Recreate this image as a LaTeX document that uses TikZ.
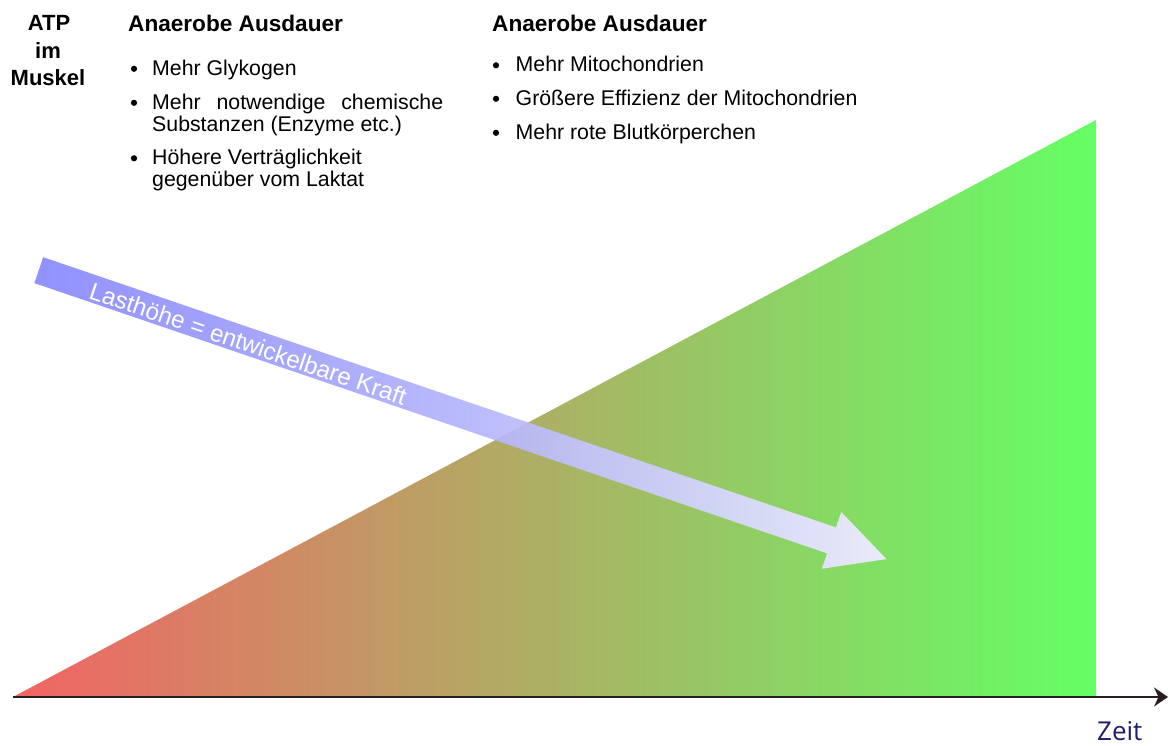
\documentclass[tikz,border=0pt]{standalone}
\usepackage{fontspec}
\setmainfont{Liberation Sans}
\newfontfamily\zeitfont{Open Sans}
\usetikzlibrary{arrows.meta,fadings}
\definecolor{trired}{RGB}{242,100,100}
\definecolor{trigreen}{RGB}{100,255,100}
\definecolor{bandblue}{RGB}{122,122,252}
\definecolor{bandmid}{RGB}{135,135,248}
\definecolor{bandwhite}{RGB}{234,236,250}
\definecolor{axiscol}{RGB}{40,30,30}
\definecolor{zeitcol}{RGB}{30,30,110}
\tikzfading[name=bandfade, left color=transparent!18, right color=transparent!0]
\begin{document}
\begin{tikzpicture}[x=1pt,y=-1pt,
  headtxt/.style={inner sep=0pt, anchor=base west, font=\fontsize{22.6}{24}\selectfont\bfseries},
  atptxt/.style={inner sep=0pt, anchor=base, font=\fontsize{22}{24}\selectfont\bfseries},
  itemtxt/.style={inner sep=0pt, anchor=base west, font=\fontsize{21.3}{22}\selectfont},
  bul/.style={circle, fill=black, inner sep=0pt, minimum size=6.2pt},
  bandtxt/.style={text=white, rotate=-18.82, inner sep=0pt, font=\fontsize{24.2}{26}\selectfont}
]
\useasboundingbox (0,0) rectangle (1168,746);

% triangle
\shade[left color=trired, right color=trigreen] (13,697) -- (1096,697) -- (1096,120) -- cycle;

% axis
\coordinate (orig) at (13,697);
\coordinate (xend) at (1168,697);
\draw[axiscol, line width=1.8pt, -{Stealth[length=14pt,width=19pt]}] (orig) -- (xend);
\node[inner sep=0pt, anchor=base west, text=zeitcol, font=\zeitfont\fontsize{26}{28}\selectfont] (zeit) at (1097,740.5) {Zeit};

% band arrow
\begin{scope}[shift={(39,270)}, rotate=-18.82]
\shade[left color=bandblue, middle color=bandmid, right color=bandwhite, path fading=bandfade]
  (0,-13.7) -- (838,-13.7) -- (838,-30) -- (896,0) -- (838,30) -- (838,13.7) -- (0,13.7) -- cycle;
\end{scope}
\node[bandtxt] (last) at (248.3,343.6) {Lasthöhe = entwickelbare Kraft};

% ATP im Muskel
\node[atptxt] (atp) at (49,30.7) {ATP};
\node[atptxt] (im) at (48,58.7) {im};
\node[atptxt] (muskel) at (48,86) {Muskel};

% left column
\node[headtxt] (h1) at (128,31.7) {Anaerobe Ausdauer};
\node[bul] (b11) at (134,68.8) {};
\node[itemtxt] (l11) at (152,75.5) {Mehr Glykogen};
\node[bul] (b12) at (134,102.8) {};
\node[itemtxt] (l12) at (152,109.5) {\makebox[291pt][s]{Mehr notwendige chemische}};
\node[itemtxt] (l12b) at (152,131.5) {Substanzen (Enzyme etc.)};
\node[bul] (b13) at (134,158.3) {};
\node[itemtxt] (l13) at (152,165) {Höhere Verträglichkeit};
\node[itemtxt] (l13b) at (152,187) {gegenüber vom Laktat};

% right column
\node[headtxt] (h2) at (492,31.7) {Anaerobe Ausdauer};
\node[bul] (b21) at (496,65.3) {};
\node[itemtxt] (r21) at (515.5,72) {Mehr Mitochondrien};
\node[bul] (b22) at (496,98.8) {};
\node[itemtxt] (r22) at (515.5,105.5) {Größere Effizienz der Mitochondrien};
\node[bul] (b23) at (496,132.8) {};
\node[itemtxt] (r23) at (515.5,139.5) {Mehr rote Blutkörperchen};
\end{tikzpicture}
\end{document}
